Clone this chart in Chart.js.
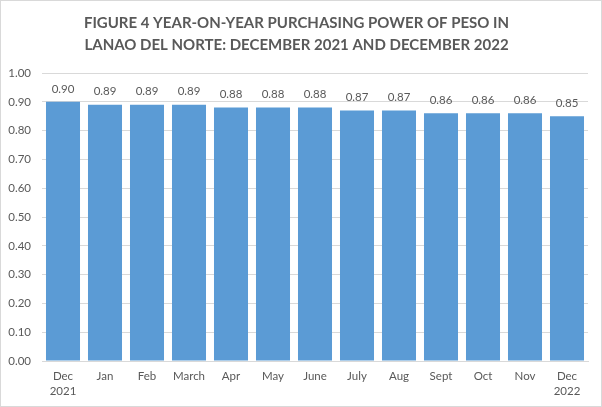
<!DOCTYPE html>
<html>
<head>
<meta charset="utf-8">
<script src="https://cdn.jsdelivr.net/npm/chart.js@4"></script>
<style>
  html, body { margin: 0; padding: 0; background: #fff; }
  #wrap { width: 600px; height: 405px; border: 1px solid #d9d9d9; }
</style>
</head>
<body>
<div id="wrap"><canvas id="chart" width="600" height="405"></canvas></div>
<script>
// Purchasing power of the peso, Lanao del Norte
const months = [
  ["Dec", "2021"], "Jan", "Feb", "March", "Apr", "May", "June",
  "July", "Aug", "Sept", "Oct", "Nov", ["Dec", "2022"]
];
const ppp = [0.90, 0.89, 0.89, 0.89, 0.88, 0.88, 0.88, 0.87, 0.87, 0.86, 0.86, 0.86, 0.85];
const titleLines = [
  "FIGURE 4 YEAR-ON-YEAR PURCHASING POWER OF PESO IN",
  "LANAO DEL NORTE: DECEMBER 2021 AND DECEMBER 2022"
];

const textColor = "#595959";
const fontFamily = "Lato, 'Open Sans', sans-serif";

// value labels above each bar
const barLabels = {
  id: "barLabels",
  afterDatasetsDraw(chart) {
    const ctx = chart.ctx;
    const meta = chart.getDatasetMeta(0);
    ctx.save();
    ctx.font = "11.5px " + fontFamily;
    ctx.fillStyle = textColor;
    ctx.textAlign = "center";
    ctx.textBaseline = "middle";
    meta.data.forEach((bar, i) => {
      ctx.fillText(ppp[i].toFixed(2), bar.x, bar.y - 13);
    });
    ctx.restore();
  },
};

new Chart(document.getElementById("chart").getContext("2d"), {
  type: "bar",
  data: {
    labels: months,
    datasets: [
      {
        data: ppp,
        backgroundColor: "#5b9bd5",
        borderWidth: 0,
        barPercentage: 0.81,
        categoryPercentage: 1,
      },
    ],
  },
  options: {
    responsive: false,
    animation: false,
    layout: { padding: { left: 4, right: 13, top: 0, bottom: 0 } },
    scales: {
      y: {
        min: 0,
        max: 1,
        ticks: {
          stepSize: 0.1,
          color: textColor,
          padding: 11,
          font: { size: 11.5, family: fontFamily },
          callback: (v) => v.toFixed(2),
        },
        grid: { color: "#d9d9d9", drawTicks: false },
        border: { display: false },
        afterFit: (scale) => { scale.width = 37; },
      },
      x: {
        ticks: {
          color: textColor,
          padding: 8,
          maxRotation: 0,
          autoSkip: false,
          font: { size: 11.5, family: fontFamily, lineHeight: 1.3 },
        },
        grid: { display: false, drawTicks: false },
        border: { color: "#d9d9d9" },
        afterFit: (scale) => { scale.height = 45; },
      },
    },
    plugins: {
      legend: { display: false },
      tooltip: { enabled: false },
      title: {
        display: true,
        text: titleLines,
        color: textColor,
        font: { size: 15, weight: "bold", family: fontFamily, lineHeight: 1.467 },
        padding: { top: 11, bottom: 17 },
      },
    },
  },
  plugins: [barLabels],
});
</script>
</body>
</html>
